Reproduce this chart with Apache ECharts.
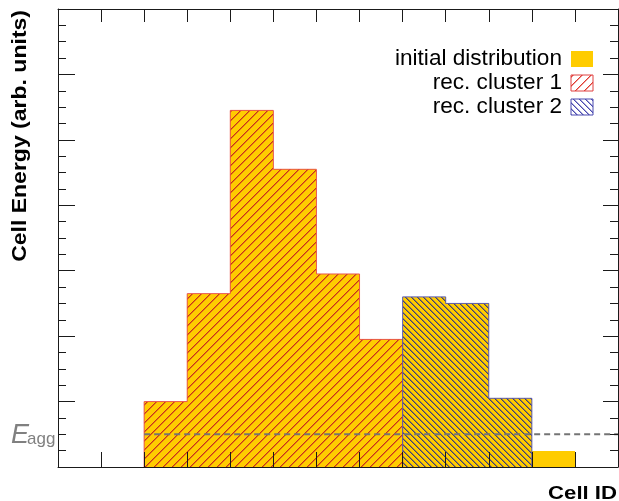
<!DOCTYPE html>
<html>
<head>
<meta charset="utf-8">
<script src="https://cdn.jsdelivr.net/npm/echarts@6/dist/echarts.min.js"></script>
<style>
  html, body { margin: 0; padding: 0; background: #ffffff; }
  #chart { width: 619px; height: 501px; }
</style>
</head>
<body>
<div id="chart"></div>
<script>
// Cell energies (arb. units), indexed by the lower edge of each cell bin
const cellIds = [2, 3, 4, 5, 6, 7, 8, 9, 10, 11];
const initialEnergy = [1.00, 2.65, 5.45, 4.55, 2.95, 1.95, 2.60, 2.50, 1.05, 0.25];

// Cells assigned to each reconstructed cluster
const cluster1Cells = [2, 3, 4, 5, 6, 7];
const cluster1Energy = [1.00, 2.65, 5.45, 4.55, 2.95, 1.95];
const cluster2Cells = [8, 9, 10];
const cluster2Energy = [2.60, 2.50, 1.05];

// Aggregation threshold E_agg and where its guide line starts
const aggregationThreshold = 0.5;
const thresholdFrom = 2;

// Axis ranges
const cellRange = [0, 13];
const energyRange = [0, 7];

const legendLabels = ['initial distribution', 'rec. cluster 1', 'rec. cluster 2'];
const axisTitles = { x: 'Cell ID', y: 'Cell Energy (arb. units)' };

const YELLOW = '#ffcc00';
const RED_HATCH = '#c8301c';
const BLUE_HATCH = '#3c3c7c';
const RED_EDGE = '#e8564c';
const BLUE_EDGE = '#5c5cae';
const FONT = '"Liberation Sans", Arial, Helvetica, sans-serif';

// Diagonal hatch tile: dir > 0 draws "/", dir < 0 draws "\"
function hatchTile(size, color, dir, background) {
  const c = document.createElement('canvas');
  c.width = size; c.height = size;
  const ctx = c.getContext('2d');
  if (background) { ctx.fillStyle = background; ctx.fillRect(0, 0, size, size); }
  ctx.fillStyle = color;
  for (let i = 0; i < size; i++) {
    const y = dir > 0 ? size - 1 - i : i;
    ctx.globalAlpha = 1;
    ctx.fillRect(i, y, 1, 1);
    ctx.globalAlpha = 0.5;
    ctx.fillRect((i + 1) % size, y, 1, 1);
  }
  return c;
}

const redHatch = { image: hatchTile(9, RED_HATCH, 1), repeat: 'repeat' };
const blueHatch = { image: hatchTile(6, BLUE_HATCH, -1), repeat: 'repeat' };
const redHatchKey = { image: hatchTile(9, '#e03a30', 1, '#ffffff'), repeat: 'repeat' };
const blueHatchKey = { image: hatchTile(6, '#4a4ab0', -1, '#ffffff'), repeat: 'repeat' };

// One filled rectangle per cell bin, placed through the axes
function binSeries(name, cells, values, fill, z) {
  return {
    type: 'custom',
    name: name,
    z: z,
    silent: true,
    clip: true,
    data: cells.map((c, i) => [c, values[i]]),
    encode: { x: 0, y: 1 },
    renderItem: function (params, api) {
      const x0 = api.value(0);
      const v = api.value(1);
      const topLeft = api.coord([x0, v]);
      const bottomRight = api.coord([x0 + 1, 0]);
      // snap to whole pixels so adjacent bins join without seams
      const left = Math.round(topLeft[0]);
      const right = Math.round(bottomRight[0]);
      const top = Math.round(topLeft[1]);
      const bottom = Math.round(bottomRight[1]);
      return {
        type: 'rect',
        shape: { x: left, y: top, width: right - left, height: bottom - top },
        style: { fill: fill, stroke: null }
      };
    }
  };
}

// Step outline of a histogram, built from its bin values
function outlinePoints(cells, values) {
  const pts = [[cells[0], 0]];
  cells.forEach((c, i) => {
    pts.push([c, values[i]]);
    pts.push([c + 1, values[i]]);
  });
  pts.push([cells[cells.length - 1] + 1, 0]);
  return pts;
}

function outlineSeries(cells, values, color, z) {
  return {
    type: 'line',
    data: outlinePoints(cells, values),
    symbol: 'none',
    silent: true,
    z: z,
    lineStyle: { color: color, width: 1 },
    animation: false
  };
}

const frameColor = '#1a1a1a';

function xAxisDef(position, tickLen) {
  return {
    type: 'value',
    position: position,
    min: cellRange[0],
    max: cellRange[1],
    interval: 1,
    z: 8,
    axisLine: { show: true, onZero: false, lineStyle: { color: frameColor, width: 1 } },
    axisTick: { show: true, inside: true, length: tickLen, lineStyle: { color: frameColor, width: 1 } },
    axisLabel: { show: false },
    splitLine: { show: false }
  };
}

function yAxisDef(position, tickLen) {
  return {
    type: 'value',
    position: position,
    min: energyRange[0],
    max: energyRange[1],
    interval: 1,
    z: 8,
    axisLine: { show: true, onZero: false, lineStyle: { color: frameColor, width: 1 } },
    axisTick: { show: true, inside: true, length: tickLen, lineStyle: { color: frameColor, width: 1 } },
    minorTick: { show: true, splitNumber: 4, length: 8, lineStyle: { color: frameColor, width: 1 } },
    axisLabel: { show: false },
    splitLine: { show: false },
    minorSplitLine: { show: false }
  };
}

// Legend rows: label, key swatch
const legendRight = 562;
const legendRowY = [59, 83, 107];
const legendFills = [YELLOW, redHatchKey, blueHatchKey];
const legendStrokes = [null, '#e04040', '#4a4ab0'];

const legendGraphics = [];
legendLabels.forEach((label, i) => {
  legendGraphics.push({
    type: 'text',
    x: legendRight,
    y: legendRowY[i],
    z: 20,
    style: {
      text: label,
      font: '22.6px ' + FONT,
      fill: '#000000',
      align: 'right',
      verticalAlign: 'middle'
    }
  });
  legendGraphics.push({
    type: 'rect',
    z: 20,
    shape: { x: 571, y: legendRowY[i] - 8, width: 22, height: 16 },
    style: {
      fill: legendFills[i],
      stroke: legendStrokes[i],
      lineWidth: 1
    }
  });
});

const chart = echarts.init(document.getElementById('chart'), null, { renderer: 'canvas' });

chart.setOption({
  animation: false,
  backgroundColor: '#ffffff',
  grid: { left: 58, right: 1, top: 9, bottom: 34, containLabel: false },
  xAxis: [xAxisDef('bottom', 15), xAxisDef('top', 13)],
  yAxis: [yAxisDef('left', 17), yAxisDef('right', 15)],
  series: [
    binSeries('initial distribution', cellIds, initialEnergy, YELLOW, 2),
    binSeries('rec. cluster 1', cluster1Cells, cluster1Energy, redHatch, 3),
    binSeries('rec. cluster 2', cluster2Cells, cluster2Energy, blueHatch, 3),
    outlineSeries(cluster1Cells, cluster1Energy, RED_EDGE, 4),
    outlineSeries(cluster2Cells, cluster2Energy, BLUE_EDGE, 4),
    {
      type: 'line',
      data: [[thresholdFrom, aggregationThreshold], [cellRange[1], aggregationThreshold]],
      symbol: 'none',
      silent: true,
      z: 5,
      lineStyle: { color: '#747474', width: 2, type: [6, 4] }
    }
  ],
  graphic: [
    {
      type: 'text',
      x: 20.5,
      y: 10,
      rotation: Math.PI / 2,
      scaleX: 1.18,
      z: 20,
      style: {
        text: axisTitles.y,
        font: 'bold 19.5px ' + FONT,
        fill: '#000000',
        align: 'right',
        verticalAlign: 'middle'
      }
    },
    {
      type: 'text',
      x: 617,
      y: 494,
      scaleX: 1.23,
      z: 20,
      style: {
        text: axisTitles.x,
        font: 'bold 18px ' + FONT,
        fill: '#000000',
        align: 'right',
        verticalAlign: 'middle'
      }
    },
    {
      type: 'text',
      x: 11,
      y: 435,
      z: 20,
      style: {
        text: 'E',
        font: 'italic 27px ' + FONT,
        fill: '#808080',
        align: 'left',
        verticalAlign: 'middle'
      }
    },
    {
      type: 'text',
      x: 27,
      y: 439,
      z: 20,
      style: {
        text: 'agg',
        font: '17px ' + FONT,
        fill: '#808080',
        align: 'left',
        verticalAlign: 'middle'
      }
    }
  ].concat(legendGraphics)
});
</script>
</body>
</html>
